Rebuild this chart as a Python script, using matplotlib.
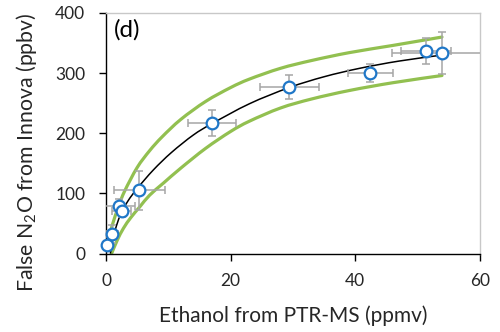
import matplotlib
matplotlib.use("Agg")
import matplotlib.pyplot as plt
from matplotlib.path import Path
from matplotlib.patches import PathPatch

plt.rcParams['font.family'] = ['Lato', 'DejaVu Sans']
plt.rcParams['mathtext.fontset'] = 'custom'
plt.rcParams['mathtext.rm'] = 'Lato'
plt.rcParams['mathtext.it'] = 'Lato:italic'

# measured points
ethanol = [0.2, 1.0, 2.1, 2.5, 5.35, 17.0, 29.4, 42.4, 51.3, 53.9]
false_n2o = [14, 33, 79, 70, 105, 217, 277, 300, 337, 334]
ethanol_err = [0.3, 1.0, 2.5, 1.5, 4.1, 3.9, 4.7, 3.6, 4.0, 8.0]
n2o_err = [5, 15, 12, 10, 33, 21, 20, 15, 22, 35]

# fitted curve
fit_x = [0.7, 1.0, 1.5, 2.3, 3.5, 5.0, 7.6, 10.5, 14, 17, 23, 29.4, 35, 40.7, 47, 53.9]
fit_y = [0, 18, 40, 64, 87, 108, 139, 168, 197, 216, 249, 276, 294, 308, 320, 330]

# upper bound curve
upper_x = [0.1, 1, 2, 3, 5, 7, 9, 12, 16, 20, 23, 28, 33, 39, 46, 53.9]
upper_y = [14, 47, 78, 104, 143, 171, 194, 223, 253, 276, 290, 308, 321, 334, 346, 360]

# lower bound curve
lower_x = [0.9, 1.8, 2.8, 4, 5.45, 7, 9.2, 12, 16, 20, 23, 28, 33, 39, 46, 53.9]
lower_y = [0, 22, 42, 60, 78, 97, 117, 142, 175, 203, 220, 242, 257, 271, 284, 296]

xticks = [0, 20, 40, 60]
yticks = [0, 100, 200, 300, 400]


def smooth_line(ax, xs, ys, **kw):
    """Draw a smoothed line (Catmull-Rom as Bezier) through the given points."""
    pts = list(zip(xs, ys))
    n = len(pts)
    verts = [pts[0]]
    codes = [Path.MOVETO]
    for i in range(n - 1):
        p0 = pts[i - 1] if i > 0 else pts[i]
        p1 = pts[i]
        p2 = pts[i + 1]
        p3 = pts[i + 2] if i + 2 < n else pts[i + 1]
        c1 = (p1[0] + (p2[0] - p0[0]) / 6.0, p1[1] + (p2[1] - p0[1]) / 6.0)
        c2 = (p2[0] - (p3[0] - p1[0]) / 6.0, p2[1] - (p3[1] - p1[1]) / 6.0)
        verts += [c1, c2, p2]
        codes += [Path.CURVE4, Path.CURVE4, Path.CURVE4]
    patch = PathPatch(Path(verts, codes), fill=False, **kw)
    ax.add_patch(patch)
    return patch


fig = plt.figure(figsize=(5.0, 3.32), dpi=100)
ax = fig.add_axes([0.212, 0.2364, 0.748, 0.7245])

green = '#92c050'
smooth_line(ax, upper_x, upper_y, edgecolor=green, lw=2.3, capstyle='round', zorder=2)
smooth_line(ax, lower_x, lower_y, edgecolor=green, lw=2.3, capstyle='round', zorder=2)
smooth_line(ax, fit_x, fit_y, edgecolor='black', lw=1.1, zorder=3)

ax.errorbar(ethanol, false_n2o, xerr=ethanol_err, yerr=n2o_err, fmt='none',
            ecolor='#a6a6a6', elinewidth=1.1, capsize=3, capthick=1.1, zorder=4)
ax.plot(ethanol, false_n2o, 'o', ms=8.4, mfc='white', mec='#1f77c8', mew=1.6,
        zorder=5, clip_on=False)

ax.set_xlim(0, 60)
ax.set_ylim(0, 400)
ax.set_xticks(xticks)
ax.set_yticks(yticks)
ax.tick_params(axis='both', direction='out', length=5, width=1, labelsize=12.5,
               color='black', labelcolor='#262626')
ax.tick_params(axis='x', pad=9)
ax.tick_params(axis='y', pad=10)
for s in ['left', 'bottom']:
    ax.spines[s].set_color('black')
    ax.spines[s].set_linewidth(1)
for s in ['top', 'right']:
    ax.spines[s].set_color('#c8c8c8')
    ax.spines[s].set_linewidth(1)

ax.set_xlabel('Ethanol from PTR-MS (ppmv)', fontsize=15, color='#262626', labelpad=12)
ax.set_ylabel('False N$\\mathregular{_2}$O from Innova (ppbv)', fontsize=15.3,
              color='#262626')
ax.yaxis.set_label_coords(-0.178, 0.42)
ax.text(0.02, 0.975, '(d)', transform=ax.transAxes, fontsize=17.5, va='top', ha='left',
        color='black')

fig.savefig('out.png', dpi=100)
